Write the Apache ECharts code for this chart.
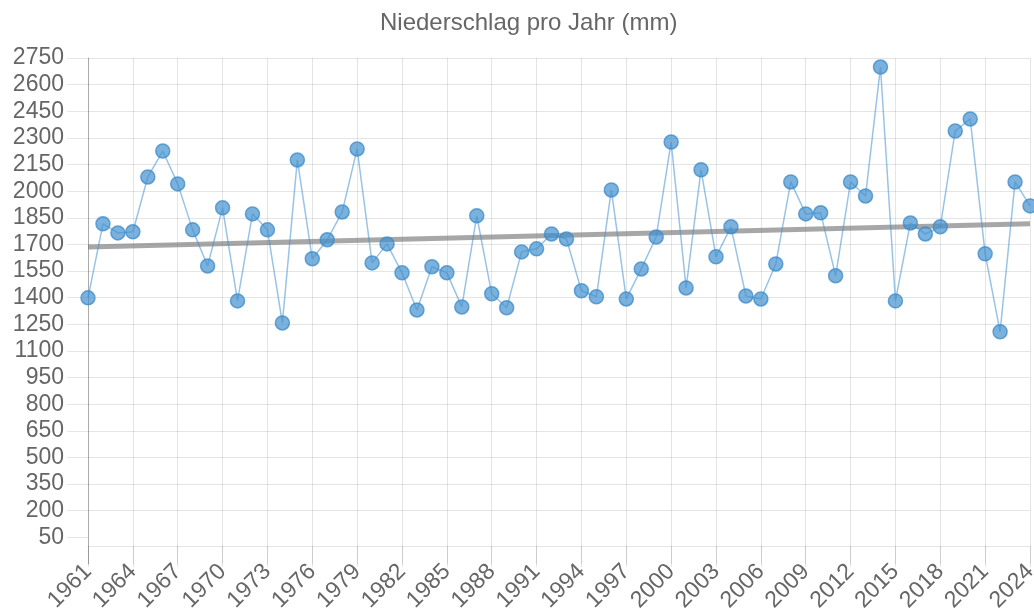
<!DOCTYPE html>
<html>
<head>
<meta charset="utf-8">
<title>Niederschlag pro Jahr</title>
<script src="https://cdn.jsdelivr.net/npm/echarts@6/dist/echarts.min.js"></script>
<style>
  html, body { margin: 0; padding: 0; background: #fff; }
  #container { width: 1034px; height: 616px; }
</style>
</head>
<body>
<div id="container"></div>
<script type="text/javascript">
// Jahre 1961 - 2024
var years = [];
for (var y = 1961; y <= 2024; y++) { years.push(String(y)); }

// Niederschlag (mm)
var niederschlag = [
  1399, 1816, 1765, 1771, 2080, 2226, 2041, 1782, 1579, 1906,
  1382, 1872, 1782, 1258, 2176, 1619, 1726, 1883, 2238, 1596,
  1703, 1540, 1331, 1574, 1540, 1348, 1861, 1422, 1343, 1658,
  1675, 1759, 1731, 1439, 1405, 2007, 1393, 1562, 1742, 2277,
  1455, 2120, 1630, 1799, 1410, 1393, 1590, 2052, 1872, 1878,
  1523, 2052, 1973, 2699, 1382, 1821, 1759, 1799, 2339, 2407,
  1647, 1208, 2052, 1917
];

// Trendlinie: Anfangs- und Endwert
var trendStart = 1686;
var trendEnd = 1816;

// Beschriftungen der y-Achse
var yTicks = [50, 200, 350, 500, 650, 800, 950, 1100, 1250, 1400, 1550,
  1700, 1850, 2000, 2150, 2300, 2450, 2600, 2750];

var font = 'Liberation Sans, Arial, Helvetica, sans-serif';
var gridColor = 'rgba(0,0,0,0.1)';

var myChart = echarts.init(document.getElementById('container'));
var option = {
  animation: false,
  backgroundColor: '#fff',
  title: {
    text: 'Niederschlag pro Jahr (mm)',
    left: 375,
    top: 6,
    textStyle: { fontFamily: font, fontSize: 24, fontWeight: 'normal', color: '#666' }
  },
  // Rasterunterkante liegt bei -100, die x-Achse wird auf die 0 hochgeschoben
  grid: { left: 88, right: 4, top: 58, bottom: 52, containLabel: false, outerBoundsMode: 'none' },
  xAxis: {
    type: 'category',
    data: years,
    boundaryGap: false,
    offset: -18,
    axisLine: { show: true, onZero: false, lineStyle: { color: gridColor, width: 1 } },
    axisTick: { show: true, interval: 2, length: 21, lineStyle: { color: gridColor } },
    splitLine: { show: true, interval: 2, lineStyle: { color: gridColor, width: 1 } },
    axisLabel: {
      interval: 2, rotate: 45, margin: 22,
      fontFamily: font, fontSize: 23, color: '#666'
    }
  },
  yAxis: {
    type: 'value',
    min: -100,
    max: 2750,
    interval: 150,
    axisLine: { show: true, lineStyle: { color: 'rgba(0,0,0,0.25)', width: 1 } },
    axisTick: { show: true, length: 21, customValues: yTicks, lineStyle: { color: gridColor } },
    splitLine: { show: true, showMinLine: false, lineStyle: { color: gridColor, width: 1 } },
    axisLabel: {
      showMinLabel: false, margin: 24,
      fontFamily: font, fontSize: 23, color: '#666',
      formatter: function (v) { return v < 0 ? '' : String(v); }
    }
  },
  series: [
    {
      name: 'Trend',
      type: 'line',
      data: [[years[0], trendStart], [years[years.length - 1], trendEnd]],
      symbol: 'none',
      silent: true,
      z: 1,
      lineStyle: { color: 'rgba(120,120,120,0.65)', width: 5 }
    },
    {
      name: 'Niederschlag',
      type: 'line',
      data: niederschlag,
      symbol: 'circle',
      symbolSize: 14,
      showAllSymbol: true,
      z: 2,
      lineStyle: { color: 'rgba(70,145,210,0.55)', width: 1.5 },
      itemStyle: {
        color: 'rgba(66,146,206,0.7)',
        borderColor: 'rgba(60,138,200,0.75)',
        borderWidth: 1.5
      }
    }
  ]
};
myChart.setOption(option);
</script>
</body>
</html>
